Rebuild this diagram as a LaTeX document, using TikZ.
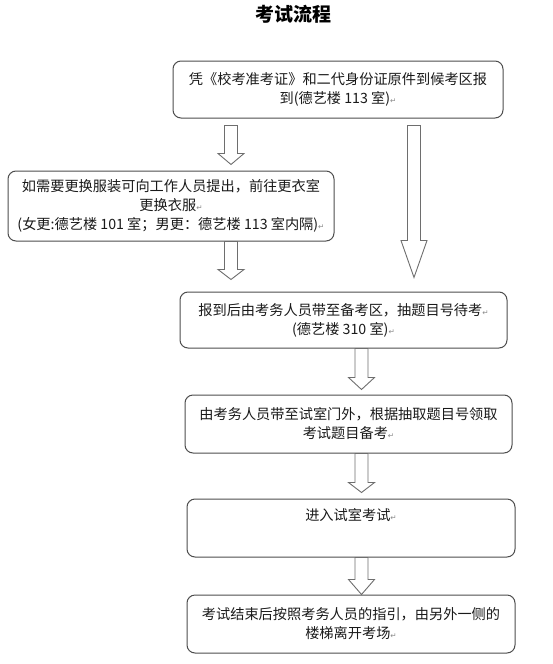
\documentclass[tikz,border=0pt]{standalone}
\usepackage{fontspec}
\usetikzlibrary{calc}
\newfontfamily\cjk{Noto Sans CJK SC}
\newfontfamily\symf{DejaVu Sans}
\definecolor{boxline}{HTML}{4D4D4D}
\definecolor{arrline}{HTML}{6E6E6E}
\definecolor{txt}{HTML}{1A1A1A}
\newcommand\retmark{{\symf\fontsize{7.5}{7.5}\selectfont\color{gray!90}↵}}
\newcommand\blockarrow[3]{%
  \draw[barrowst] let \p1=(#1), \p2=(#2) in
   (\x1-6.5pt,\y1) -- (\x1+6.5pt,\y1) -- (\x1+6.5pt,\y2+#3) -- (\x1+13pt,\y2+#3)
   -- (\x1,\y2) -- (\x1-13pt,\y2+#3) -- (\x1-6.5pt,\y2+#3) -- cycle;}
\tikzset{
  box/.style={draw=boxline, line width=1pt, rounded corners=8pt, fill=white,
    align=center, font=\cjk\fontsize{14.2}{19}\selectfont, text=txt, inner sep=0pt},
  plaintext/.style={align=center, font=\cjk\fontsize{14.2}{19}\selectfont, text=txt, inner sep=0pt},
  barrowst/.style={draw=arrline, line width=0.9pt, fill=white, line join=miter}
}
\begin{document}
\begin{tikzpicture}[x=1pt,y=-1pt]
\useasboundingbox (0,0) rectangle (552,664);
\node[font=\cjk\bfseries\fontsize{19}{19}\selectfont, text=black] (title) at (293,14) {考试流程};

\node[box, minimum width=330pt, minimum height=57pt] (b1) at (338,89.5)
  {凭《校考准考证》和二代身份证原件到候考区报\\到(德艺楼 113 室)\retmark};
\node[box, minimum width=326pt, minimum height=70pt] (b2) at (171,206)
  {如需要更换服装可向工作人员提出，前往更衣室\\更换衣服\retmark\\(女更:德艺楼 101 室；男更：德艺楼 113 室内隔)\retmark};
\node[box, minimum width=327pt, minimum height=56pt] (b3) at (343.5,320)
  {报到后由考务人员带至备考区，抽题目号待考\retmark\\(德艺楼 310 室)\retmark};
\node[box, minimum width=327pt, minimum height=58pt] (b4) at (348.5,424)
  {由考务人员带至试室门外，根据抽取题目号领取\\考试题目备考\retmark};
\node[box, minimum width=328pt, minimum height=58pt] (b5) at (351,528) {};
\node[plaintext] (t5) at (351,515) {进入试室考试\retmark};
\node[box, minimum width=328pt, minimum height=58pt] (b6) at (351,624)
  {考试结束后按照考务人员的指引，由另外一侧的\\楼梯离开考场\retmark};

\coordinate (aAs) at ($(b1.south -| 231,0)+(0,7)$);
\coordinate (aAe) at ($(b2.north -| 231,0)+(0,-6)$);
\coordinate (aBs) at (b2.south -| 231,0);
\coordinate (aBe) at ($(b3.north -| 231,0)+(0,-12)$);
\coordinate (aCs) at ($(b1.south -| 414,0)+(0,7)$);
\coordinate (aCe) at ($(b3.north -| 414,0)+(0,-14)$);
\coordinate (aDs) at (b3.south -| 361.5,0);
\coordinate (aDe) at ($(b4.north -| 361.5,0)+(0,-5)$);
\coordinate (aEs) at (b4.south -| 361.5,0);
\coordinate (aEe) at ($(b5.north -| 361.5,0)+(0,-6)$);
\coordinate (aFs) at (b5.south -| 361.5,0);
\coordinate (aFe) at (b6.north -| 361.5,0);

\blockarrow{aAs}{aAe}{11pt}
\blockarrow{aBs}{aBe}{10pt}
\blockarrow{aCs}{aCe}{37pt}
\blockarrow{aDs}{aDe}{12pt}
\blockarrow{aEs}{aEe}{10pt}
\blockarrow{aFs}{aFe}{15pt}
\end{tikzpicture}
\end{document}
